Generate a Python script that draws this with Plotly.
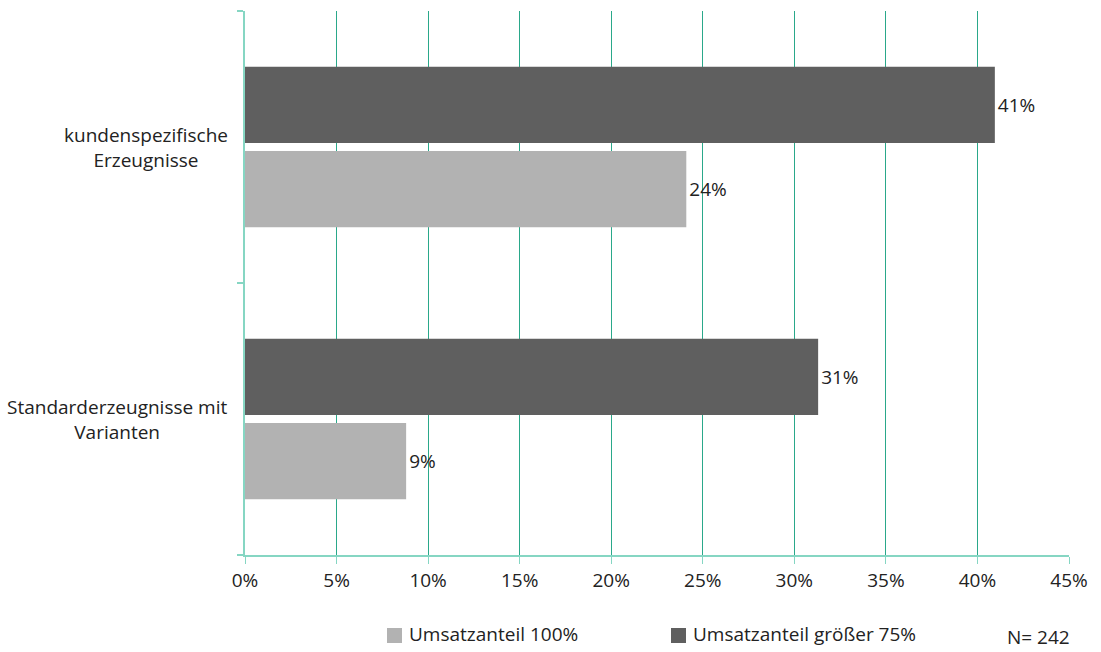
import plotly.graph_objects as go

# Categories (bottom to top) and their display labels
categories = ["Standard", "Kunden"]
category_labels = ["Standarderzeugnisse mit<br>Varianten", "kundenspezifische<br>Erzeugnisse"]

# Share of companies per series, in percent
series_names = ["Umsatzanteil 100%", "Umsatzanteil größer 75%"]
series_colors = ["#b2b2b2", "#5f5f5f"]
share_100 = [8.8, 24.1]
share_over_75 = [31.3, 40.95]

x_ticks = [0, 5, 10, 15, 20, 25, 30, 35, 40, 45]
x_ticktext = [f"{v}%" for v in x_ticks]

FONT = "Open Sans"
TEXT = "#222222"
GRID = "#2aa88a"
AXIS = "#86d6c3"
FS = 19

# plot area in pixels, used to place the legend and note in paper coordinates
L, R, T, B = 245, 1069, 11, 555


def px(x):
    return (x - L) / (R - L)


def py(y):
    return (B - y) / (B - T)


fig = go.Figure()
for name, vals, col in zip(series_names, [share_100, share_over_75], series_colors):
    fig.add_trace(go.Bar(
        y=categories, x=vals, name=name, orientation="h",
        marker=dict(color=col, line=dict(width=0)),
        texttemplate="%{x:.0f}%", textposition="outside",
        textfont=dict(size=FS, color=TEXT, family=FONT), cliponaxis=False,
        showlegend=False,
    ))

# Category labels, centred line by line
for cat, lab in zip(categories, category_labels):
    fig.add_annotation(
        x=px(230), xref="paper", y=cat, yref="y", text=lab,
        xanchor="right", yanchor="middle", align="center", showarrow=False,
        font=dict(size=FS, color=TEXT, family=FONT),
    )

# Legend: square swatch plus label
legend_pos = [(387, 407), (671, 691)]
for (sx, tx), name, col in zip(legend_pos, series_names, series_colors):
    fig.add_shape(
        type="rect", xref="paper", yref="paper",
        x0=px(sx), x1=px(sx + 15), y0=py(643), y1=py(628),
        fillcolor=col, line=dict(width=0),
    )
    fig.add_annotation(
        x=px(tx), xref="paper", y=py(634), yref="paper", text=name,
        xanchor="left", yanchor="middle", showarrow=False,
        font=dict(size=FS, color=TEXT, family=FONT),
    )

# Sample size note in the bottom-right corner
fig.add_annotation(
    x=px(1071), xref="paper", y=py(651), yref="paper", text="N= 242",
    xanchor="right", yanchor="bottom", showarrow=False,
    font=dict(size=FS, color=TEXT, family=FONT), borderpad=0,
)

fig.update_layout(
    width=1101, height=652,
    margin=dict(l=L, r=1101 - R, t=T, b=652 - B, autoexpand=False),
    paper_bgcolor="white", plot_bgcolor="white",
    barmode="group", bargap=0.38, bargroupgap=0.095,
    font=dict(family=FONT, size=FS, color=TEXT),
    showlegend=False,
    xaxis=dict(
        range=[0, 45], tickvals=x_ticks, ticktext=x_ticktext,
        showgrid=True, gridcolor=GRID, gridwidth=1, zeroline=False,
        showline=True, linecolor=AXIS, linewidth=2,
        ticks="outside", ticklen=7, tickcolor=AXIS, tickwidth=1,
        tickfont=dict(size=FS, color=TEXT, family=FONT),
        automargin=False,
    ),
    yaxis=dict(
        type="category", categoryorder="array", categoryarray=categories,
        showticklabels=False, showgrid=False, zeroline=False,
        showline=True, linecolor=AXIS, linewidth=2,
        ticks="outside", ticklen=6, tickcolor=AXIS, tickwidth=2,
        tickson="boundaries", automargin=False,
    ),
)

fig.write_html("out.html")
